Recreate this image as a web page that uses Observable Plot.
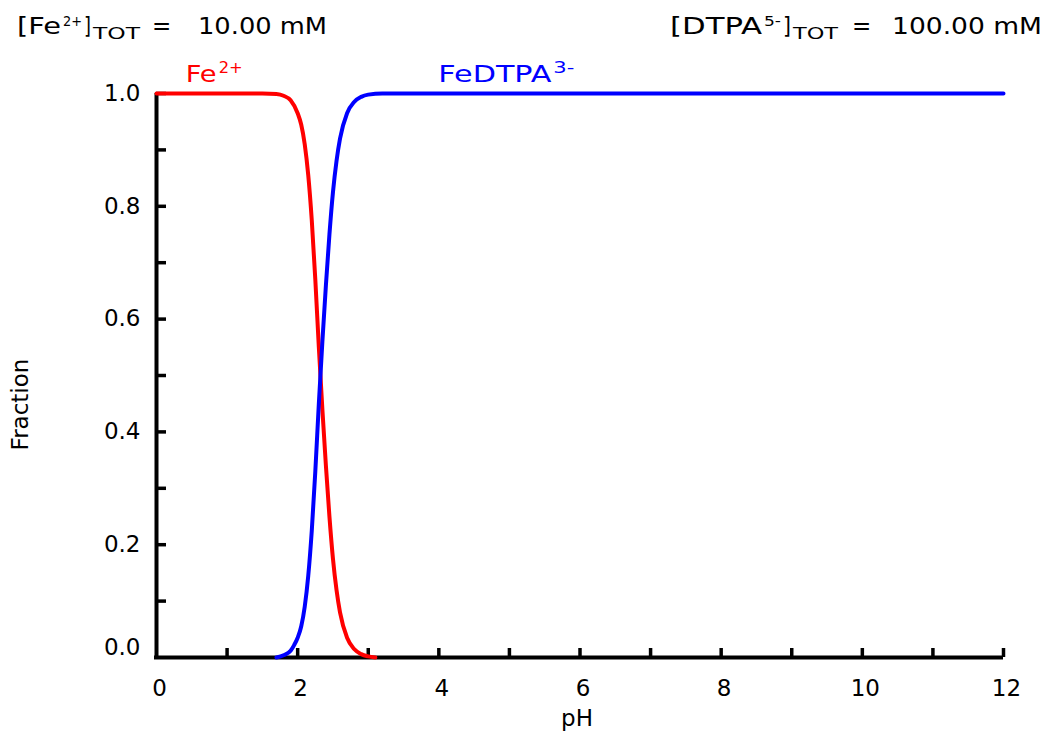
<!DOCTYPE html>
<html><head><meta charset="utf-8">
<script src="https://cdn.jsdelivr.net/npm/d3@7"></script>
<script src="https://cdn.jsdelivr.net/npm/@observablehq/plot@0.6"></script>
<style>body{margin:0;background:#fff} svg{display:block}</style>
</head><body><div id="chart"></div>
<script>
// Fe2+ fraction vs pH
const fePH   = [0, 1.0, 1.5, 1.7, 1.8, 1.9, 2.0, 2.05, 2.1, 2.15, 2.2, 2.25, 2.3, 2.35, 2.4, 2.45, 2.5, 2.55, 2.6, 2.7, 2.8, 2.9, 3.0, 3.1];
const feFrac = [1, 1, 1, 0.999, 0.996, 0.988, 0.965, 0.945, 0.91, 0.855, 0.775, 0.67, 0.55, 0.44, 0.34, 0.25, 0.175, 0.12, 0.08, 0.035, 0.015, 0.006, 0.002, 0.0];
// FeDTPA3- fraction vs pH
const cxPH   = [1.7, 1.8, 1.9, 1.95, 2.0, 2.05, 2.1, 2.15, 2.2, 2.25, 2.3, 2.35, 2.4, 2.45, 2.5, 2.55, 2.6, 2.7, 2.8, 2.9, 3.0, 3.2, 3.5, 12];
const cxFrac = [0, 0.004, 0.012, 0.022, 0.035, 0.055, 0.09, 0.145, 0.225, 0.33, 0.45, 0.56, 0.66, 0.75, 0.825, 0.88, 0.92, 0.965, 0.985, 0.994, 0.998, 1.0, 1.0, 1.0];

const xTicks = [1, 2, 3, 4, 5, 6, 7, 8, 9, 10, 11, 12];
const xLabels = [0, 2, 4, 6, 8, 10, 12];
const yTicks = [0.1, 0.2, 0.3, 0.4, 0.5, 0.6, 0.7, 0.8, 0.9, 1.0];
const yLabels = [0.2, 0.4, 0.6, 0.8, 1.0];
const yZeroLabel = [0];
const xTitle = "pH";
const yTitle = "Fraction";

const seriesColors = ["#ff0000", "#0000ff"];
const seriesLabelPH = [0.42, 4.0];
const seriesLabelFrac = 1.02;
const seriesNames = [
  [{t: "Fe", w: 33}, {t: "2+", sup: true, w: 26}],
  [{t: "FeDTPA", w: 115}, {t: "3-", sup: true, w: 23}]
];

const headerLeft = [{t: "[Fe", w: 46}, {t: "2+", sup: true, w: 21}, {t: "]", w: 9}, {t: "TOT", sub: true, w: 49}];
const headerRight = [{t: "[DTPA", w: 94}, {t: "5-", sup: true, w: 19}, {t: "]", w: 10}, {t: "TOT", sub: true, w: 47}];
const headerEquals = "=";
const headerLeftValue = [{t: "10.00 mM", w: 131}];
const headerRightValue = [{t: "100.00 mM", w: 152}];

const fe = fePH.map((p, i) => ({pH: p, frac: feFrac[i]}));
const cx = cxPH.map((p, i) => ({pH: p, frac: cxFrac[i]}));

const FONT = "DejaVu Sans";

const plot = Plot.plot({
  width: 1049, height: 735,
  marginLeft: 156, marginRight: 46, marginTop: 93, marginBottom: 78,
  x: {domain: [0, 12], axis: null},
  y: {domain: [0, 1], axis: null},
  style: {fontFamily: FONT, fontSize: "23px", color: "black", background: "white"},
  marks: [
    Plot.ruleX(xTicks, {x: d => d, y1: 0, y2: 0, insetTop: -9, stroke: "black", strokeWidth: 3.5}),
    Plot.ruleY(yTicks, {y: d => d, x1: 0, x2: 0, insetRight: -10, stroke: "black", strokeWidth: 3.5}),
    Plot.ruleY([0], {y: d => d, x1: 0, x2: 12, insetLeft: -2, stroke: "black", strokeWidth: 4}),
    Plot.ruleX([0], {x: d => d, y1: 0, y2: 1, stroke: "black", strokeWidth: 4}),
    Plot.line(fe, {x: "pH", y: "frac", stroke: seriesColors[0], strokeWidth: 4, curve: "monotone-x"}),
    Plot.line(cx, {x: "pH", y: "frac", stroke: seriesColors[1], strokeWidth: 4, curve: "monotone-x"}),
    Plot.text(xLabels, {x: d => d, y: 0, dy: 31, dx: 3, text: d => String(d), fill: "black"}),
    Plot.text(yLabels, {x: 0, y: d => d, dx: -16, textAnchor: "end", text: d => d.toFixed(1), fill: "black"}),
    Plot.text(yZeroLabel, {x: 0, y: d => d, dx: -16, dy: -10, textAnchor: "end", text: d => d.toFixed(1), fill: "black"}),
    Plot.text([xTitle], {frameAnchor: "bottom", dy: 68, dx: -3, text: d => d, fill: "black", letterSpacing: 1}),
    Plot.text([yTitle], {frameAnchor: "left", textAnchor: "middle", rotate: -90, dx: -136, dy: 29, text: d => d, fill: "black", letterSpacing: 2.8})
  ]
});

document.getElementById("chart").appendChild(plot);
const svg = d3.select(plot);
const xs = plot.scale("x"), ys = plot.scale("y");

// Lay out a run of text pieces; each piece is stretched to its given width.
function rich(x, y, parts, {anchor = "start", fill = "black", size = 23, supSize = 15, subSize = 16, supShift = -8, subShift = 5} = {}) {
  const total = d3.sum(parts, p => p.w);
  let cx0 = anchor === "end" ? x - total : x;
  const g = svg.append("g").attr("fill", fill).attr("font-family", FONT).attr("text-anchor", "start");
  for (const p of parts) {
    const shift = p.sup ? supShift : p.sub ? subShift : 0;
    g.append("text")
      .attr("x", cx0).attr("y", y + shift)
      .attr("text-anchor", "start")
      .attr("font-size", p.sup ? supSize : p.sub ? subSize : size)
      .attr("textLength", p.w - 2)
      .attr("lengthAdjust", "spacingAndGlyphs")
      .style("white-space", "pre")
      .text(p.t);
    cx0 += p.w;
  }
}

function plain(x, y, s) {
  svg.append("text").attr("x", x).attr("y", y).attr("text-anchor", "start")
    .attr("font-size", 23).attr("font-family", FONT).attr("fill", "black").text(s);
}

rich(17, 34, headerLeft, {supSize: 14});
plain(152, 34, headerEquals);
rich(198, 34, headerLeftValue);
rich(670, 34, headerRight, {supSize: 14});
plain(852, 34, headerEquals);
rich(1044, 34, headerRightValue, {anchor: "end"});

seriesNames.forEach((n, i) => {
  rich(xs.apply(seriesLabelPH[i]), ys.apply(seriesLabelFrac), n, {fill: seriesColors[i], supShift: -9});
});
</script>
</body></html>
